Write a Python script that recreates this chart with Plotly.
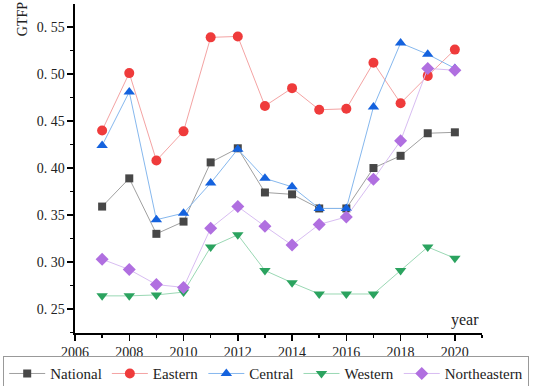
import plotly.graph_objects as go

years = list(range(2007, 2021))
national = [0.359, 0.389, 0.330, 0.343, 0.406, 0.421, 0.374, 0.372, 0.357, 0.357, 0.400, 0.413, 0.437, 0.438]
eastern = [0.440, 0.501, 0.408, 0.439, 0.539, 0.540, 0.466, 0.485, 0.462, 0.463, 0.512, 0.469, 0.498, 0.526]
central = [0.424, 0.481, 0.345, 0.352, 0.384, 0.420, 0.389, 0.380, 0.357, 0.357, 0.465, 0.533, 0.521, 0.506]
western = [0.264, 0.264, 0.265, 0.268, 0.316, 0.329, 0.291, 0.278, 0.266, 0.266, 0.266, 0.291, 0.316, 0.304]
northeastern = [0.303, 0.292, 0.276, 0.273, 0.336, 0.359, 0.338, 0.318, 0.340, 0.348, 0.388, 0.429, 0.506, 0.504]

series_names = ["National", "Eastern", "Central", "Western", "Northeastern"]
y_ticks = [0.25, 0.30, 0.35, 0.40, 0.45, 0.50, 0.55]
y_ticktext = ["0. 25", "0. 30", "0. 35", "0. 40", "0. 45", "0. 50", "0. 55"]
x_ticks = [2006, 2008, 2010, 2012, 2014, 2016, 2018, 2020]

styles = [
    dict(symbol="square", mcolor="#474747", lcolor="#a0a0a0", size=8),
    dict(symbol="circle", mcolor="#ef3b3b", lcolor="#f4a3a3", size=10),
    dict(symbol="triangle-up", mcolor="#1462de", lcolor="#86b8ee", size=10),
    dict(symbol="triangle-down", mcolor="#2ba35f", lcolor="#9ad8b4", size=10),
    dict(symbol="diamond", mcolor="#b06fe0", lcolor="#d8bdf2", size=10),
]

data = [national, eastern, central, western, northeastern]

fig = go.Figure()
for name, vals, st in zip(series_names, data, styles):
    fig.add_trace(go.Scatter(
        x=years, y=vals, name=name, mode="lines+markers",
        line=dict(color=st["lcolor"], width=1),
        marker=dict(symbol=st["symbol"], color=st["mcolor"], size=st["size"],
                    line=dict(width=0)),
    ))

font_family = "Liberation Serif"

fig.update_layout(
    template="none",
    width=550, height=386,
    margin=dict(l=3, r=2, t=4, b=53, autoexpand=False),
    paper_bgcolor="white", plot_bgcolor="white",
    font=dict(family=font_family, size=14, color="#222"),
    showlegend=True,
    legend=dict(
        orientation="h", x=0, y=-0.07, xanchor="left", yanchor="top",
        bordercolor="#999", borderwidth=1.2, bgcolor="white",
        font=dict(family=font_family, size=15, color="#222"),
        tracegroupgap=0, itemwidth=36,
    ),
    xaxis=dict(
        domain=[0.1321, 0.8789], automargin=False,
        range=[2006, 2021], tickvals=x_ticks, showgrid=False, zeroline=False,
        showline=True, linecolor="black", linewidth=1.5,
        ticks="outside", ticklen=6, tickwidth=1.5, tickcolor="black",
        minor=dict(dtick=1, tick0=2006, ticks="outside", ticklen=3, tickwidth=1.5, tickcolor="black", showgrid=False),
        tickfont=dict(size=14),
    ),
    yaxis=dict(
        automargin=False,
        range=[0.2245, 0.5745], tickvals=y_ticks, ticktext=y_ticktext,
        showgrid=False, zeroline=False,
        showline=True, linecolor="black", linewidth=1.5,
        ticks="outside", ticklen=6, tickwidth=1.5, tickcolor="black",
        minor=dict(dtick=0.025, tick0=0.225, ticks="outside", ticklen=3, tickwidth=1.5, tickcolor="black", showgrid=False),
        tickfont=dict(size=14),
    ),
    annotations=[
        dict(text="GTFP", xref="paper", yref="paper", x=0.035, y=1.012,
             xanchor="center", yanchor="top", textangle=-90, showarrow=False,
             font=dict(family=font_family, size=14, color="#222")),
        dict(text="year", xref="paper", yref="paper", x=0.877, y=0.04,
             xanchor="right", yanchor="middle", showarrow=False,
             font=dict(family=font_family, size=16, color="#222")),
    ],
)

fig.write_html(
    "out.html",
    config={"displayModeBar": False, "staticPlot": True},
    post_script="document.body.style.margin='0';document.body.style.overflow='hidden';",
)
